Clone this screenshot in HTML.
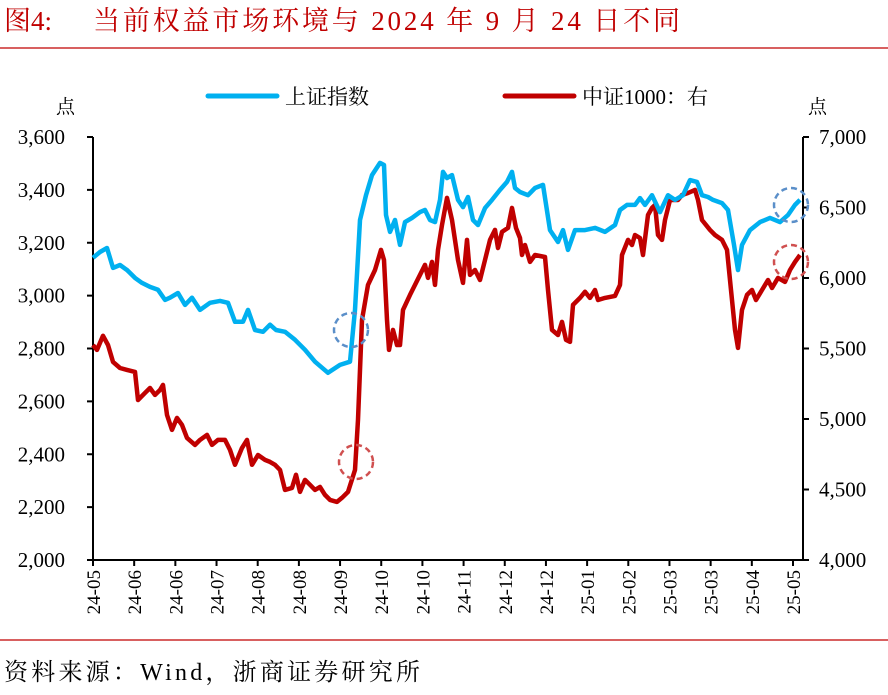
<!DOCTYPE html>
<html><head><meta charset="utf-8"><style>
body{margin:0;background:#fff;}
svg text{font-family:"Liberation Serif","Noto Serif CJK SC",serif;}
</style></head><body>
<svg id="c" width="888" height="690" xmlns="http://www.w3.org/2000/svg">
<text x="4" y="30" font-size="27" fill="#c00000">图4:</text>
<text x="93" y="30" font-size="27" fill="#c00000" textLength="587" lengthAdjust="spacing">当前权益市场环境与 2024 年 9 月 24 日不同</text>
<line x1="0" y1="48" x2="888" y2="48" stroke="#c00000" stroke-width="1.2"/>
<line x1="0" y1="640" x2="888" y2="640" stroke="#c00000" stroke-width="1.2"/>
<text x="4" y="680" font-size="24" fill="#000" textLength="416" lengthAdjust="spacing">资料来源：Wind，浙商证券研究所</text>
<g>
<line x1="208" y1="96" x2="277" y2="96" stroke="#00b0f0" stroke-width="5" stroke-linecap="round"/>
<text x="285" y="104" font-size="21">上证指数</text>
<line x1="505" y1="96" x2="574" y2="96" stroke="#c00000" stroke-width="5" stroke-linecap="round"/>
<text x="582" y="104" font-size="21">中证1000：右</text>
</g>
<text x="56" y="113" font-size="19">点</text>
<text x="808" y="113" font-size="19">点</text>
<g id="axes"></g>
<g id="series"></g>
<g fill="none" stroke-width="2.5" stroke-dasharray="6,4">
<circle cx="351" cy="330" r="17" stroke="#5b8fc9"/>
<circle cx="356" cy="462" r="17" stroke="#d05050"/>
<circle cx="791" cy="205" r="17" stroke="#5b8fc9"/>
<circle cx="791" cy="262" r="17" stroke="#d05050"/>
</g>
</svg>
<script>
const leftTicks=[2000,2200,2400,2600,2800,3000,3200,3400,3600];
const rightTicks=[4000,4500,5000,5500,6000,6500,7000];
const xLabels=["24-05","24-06","24-06","24-07","24-08","24-08","24-09","24-10","24-10","24-11","24-12","24-12","25-01","25-02","25-03","25-03","25-04","25-05"];
const sseDay=[0,7,14,20,27,34,42,49,57,65,72,77,85,92,99,107,117,127,135,142,150,155,162,170,177,183,192,202,212,222,235,247,257,262,267,273,279,287,291,293,297,302,307,312,319,327,332,337,342,347,350,354,359,365,370,375,380,385,392,399,407,414,419,422,427,435,442,450,457,465,470,475,482,492,502,512,522,527,534,542,547,552,559,567,575,582,590,597,604,609,615,620,629,635,641,645,649,657,667,677,687,695,702,707];
const sseVal=[3143,3165,3180,3105,3116,3097,3067,3048,3033,3022,2984,2992,3010,2965,2992,2946,2973,2980,2973,2901,2901,2946,2870,2863,2890,2870,2863,2833,2795,2750,2708,2738,2750,2946,3286,3380,3456,3502,3494,3305,3241,3286,3192,3278,3294,3316,3324,3286,3278,3362,3468,3445,3456,3362,3335,3373,3286,3267,3331,3362,3400,3430,3468,3407,3392,3380,3407,3419,3248,3203,3248,3173,3248,3248,3256,3241,3267,3324,3343,3343,3369,3343,3380,3316,3380,3362,3380,3437,3430,3380,3373,3362,3350,3324,3192,3097,3192,3248,3278,3294,3278,3305,3343,3362];
const csiDay=[0,4,10,15,20,27,34,42,45,52,57,62,67,70,74,79,84,89,94,102,107,114,119,125,132,137,142,149,154,159,165,172,177,182,187,192,199,203,207,212,217,222,227,232,237,244,249,255,262,265,269,275,282,288,291,294,296,300,304,307,310,317,322,327,332,335,339,342,345,349,354,359,365,370,374,377,382,387,392,397,402,405,409,415,419,423,427,429,432,437,442,452,455,459,465,469,473,477,480,487,492,497,502,505,512,522,527,529,535,539,542,547,550,555,559,562,565,569,572,577,585,589,595,602,605,609,617,622,629,634,638,642,645,649,654,659,663,669,675,679,685,692,697,702,707];
const csiVal=[5525,5490,5590,5525,5405,5362,5348,5334,5135,5185,5220,5171,5206,5242,5029,4923,5008,4958,4866,4816,4852,4887,4816,4852,4852,4781,4675,4795,4852,4675,4745,4710,4696,4675,4639,4497,4511,4604,4483,4568,4533,4497,4518,4462,4426,4412,4441,4483,4639,4994,5703,5951,6057,6199,6128,5703,5490,5632,5525,5525,5774,5880,5951,6022,6093,6001,6114,5951,6199,6376,6568,6411,6128,5965,6270,6022,6057,5986,6128,6270,6341,6213,6327,6355,6497,6355,6284,6163,6234,6114,6163,6149,5915,5632,5596,5689,5561,5547,5809,5859,5902,5859,5915,5844,5859,5873,5951,6163,6270,6234,6305,6284,6163,6447,6497,6518,6305,6270,6411,6553,6553,6589,6603,6625,6553,6411,6341,6305,6270,6199,5915,5632,5504,5774,5880,5915,5844,5915,5986,5929,6001,5972,6057,6114,6163];

const X0=93,X1=800,Y0=560,Y1=137,DMAX=707;
const xs=d=>X0+(d/DMAX)*(X1-X0);
const yl=v=>Y0-(v-2000)/(3600-2000)*(Y0-Y1);
const yr=v=>Y0-(v-4000)/(7000-4000)*(Y0-Y1);
const NS="http://www.w3.org/2000/svg";
const axes=document.getElementById('axes'),series=document.getElementById('series');
function mk(tag,attrs,parent){const e=document.createElementNS(NS,tag);for(const k in attrs)e.setAttribute(k,attrs[k]);parent.appendChild(e);return e;}
let e;
e=mk('line',{x1:X0,y1:Y1,x2:X0,y2:Y0,stroke:'#000','stroke-width':2},axes);


e=mk('line',{x1:X1+3,y1:Y1,x2:X1+3,y2:Y0,stroke:'#000','stroke-width':2},axes);


e=mk('line',{x1:X0,y1:Y0,x2:X1+3,y2:Y0,stroke:'#000','stroke-width':2},axes);


leftTicks.forEach(v=>{const y=yl(v);
 e=mk('line',{x1:X0-6,y1:y,x2:X0,y2:y,stroke:'#000','stroke-width':2},axes);
 
 
 e=mk('text',{x:65,y:y+7,'font-size':21,'text-anchor':'end'},axes);e.textContent=v.toLocaleString('en-US');
 
 });
rightTicks.forEach(v=>{const y=yr(v);
 e=mk('line',{x1:X1+3,y1:y,x2:X1+9,y2:y,stroke:'#000','stroke-width':2},axes);
 
 
 e=mk('text',{x:819,y:y+7,'font-size':21},axes);e.textContent=v.toLocaleString('en-US');
 
 });
const step=(793-X0)/(xLabels.length-1);
xLabels.forEach((l,i)=>{const x=X0+i*step;
 e=mk('line',{x1:x,y1:Y0,x2:x,y2:Y0+6,stroke:'#000','stroke-width':2},axes);
 
 
 e=mk('text',{x:0,y:0,'font-size':19,'text-anchor':'end',transform:`translate(${x+7},${Y0+10}) rotate(-90)`},axes);e.textContent=l;
 
 });
function line(days,vals,ys){return days.map((d,i)=>(i?'L':'M')+xs(d).toFixed(1)+','+ys(vals[i]).toFixed(1)).join(' ');}
e=mk('path',{d:line(csiDay,csiVal,yr),fill:'none',stroke:'#c00000','stroke-width':4.5,'stroke-linejoin':'round'},series);


e=mk('path',{d:line(sseDay,sseVal,yl),fill:'none',stroke:'#00b0f0','stroke-width':4.5,'stroke-linejoin':'round'},series);


</script>
</body></html>
